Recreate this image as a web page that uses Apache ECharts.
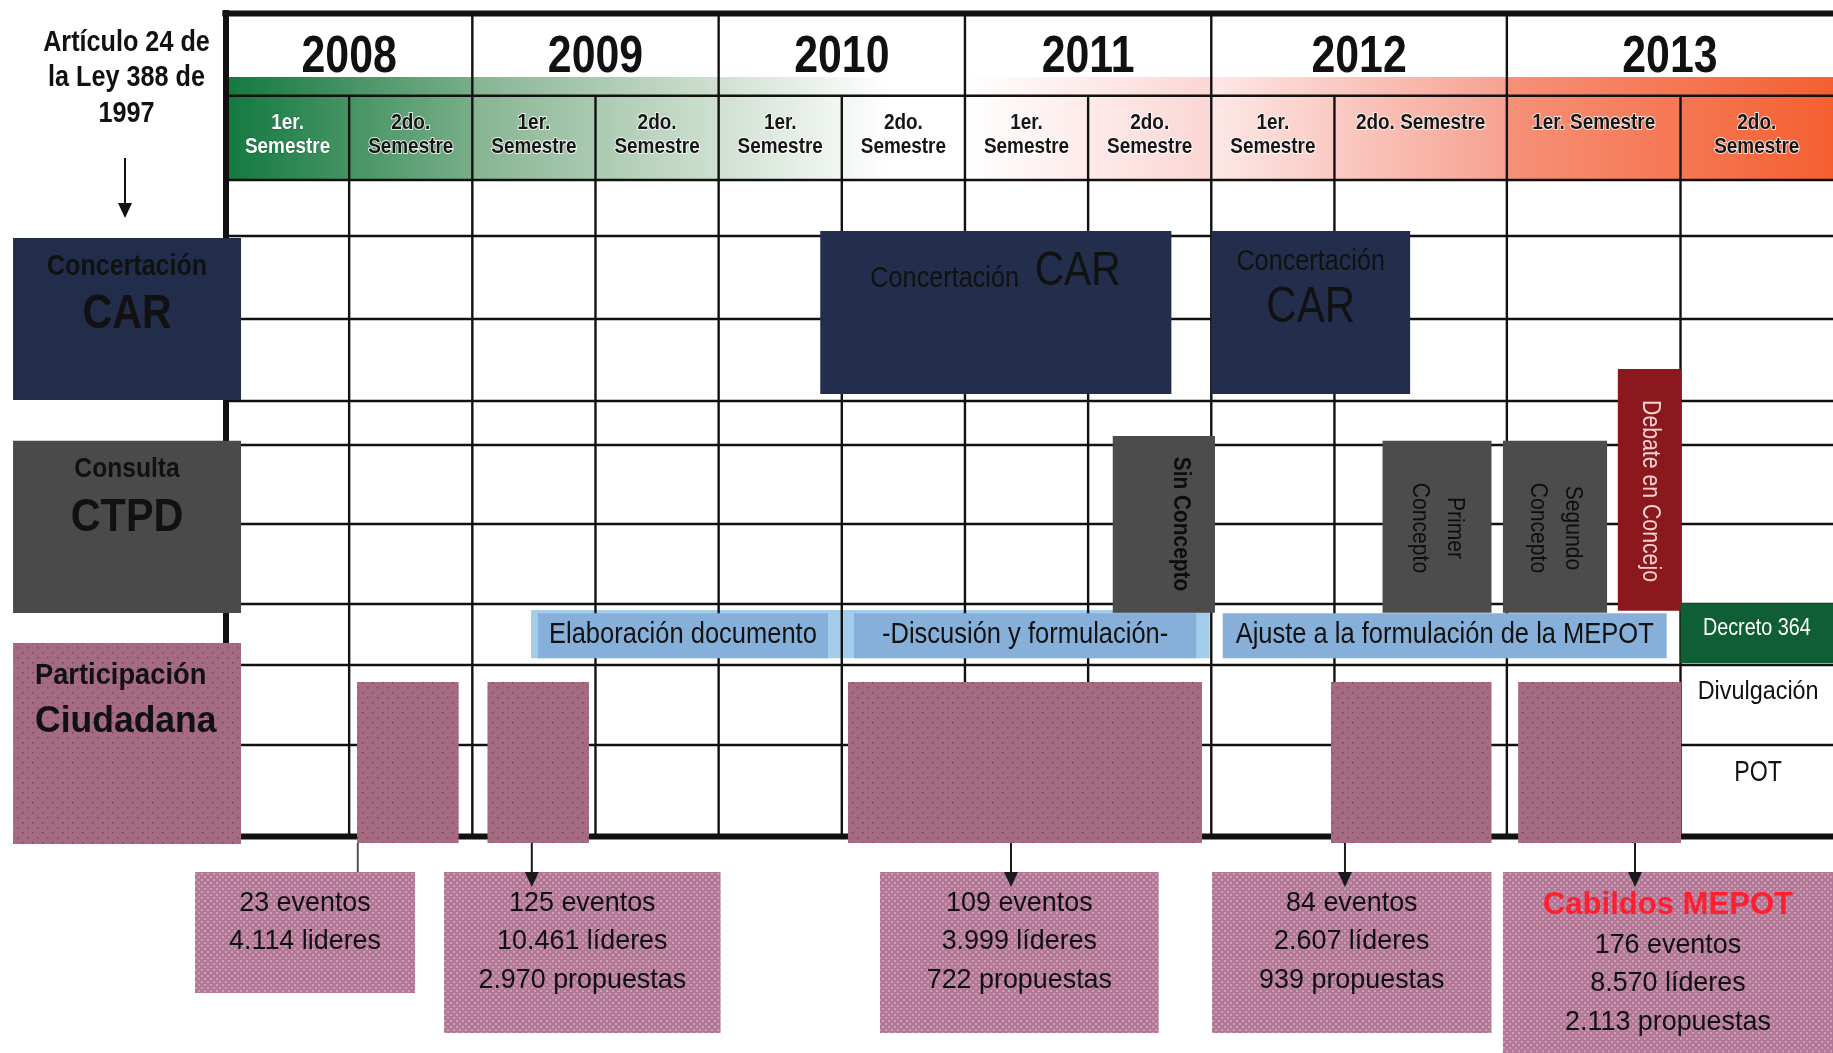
<!DOCTYPE html>
<html>
<head>
<meta charset="utf-8">
<title>Cronología MEPOT</title>
<script src="https://cdn.jsdelivr.net/npm/echarts@6/dist/echarts.min.js"></script>
<style>
  html, body { margin: 0; padding: 0; background: #fff; }
  #main { width: 1833px; height: 1053px; }
</style>
</head>
<body>
<div id="main"></div>
<script>
// ---- datos (semestres contados desde 2008 1er. = 0) ----
var years = ['2008', '2009', '2010', '2011', '2012', '2013'];
var semesterLabels = ['1er.\nSemestre', '2do.\nSemestre', '1er.\nSemestre', '2do.\nSemestre',
                      '1er.\nSemestre', '2do.\nSemestre', '1er.\nSemestre', '2do.\nSemestre',
                      '1er.\nSemestre', '2do. Semestre', '1er. Semestre', '2do.\nSemestre'];

var carSpans = [[4.825, 7.676], [8.0, 9.439]];
var ctpdNames = ['Sin Concepto', 'Primer\nConcepto', 'Segundo\nConcepto', 'Debate en Concejo'];
var ctpdSpans = [[7.2, 8.03], [9.279, 9.911], [9.977, 10.577], [10.639, 11.005]];

var phaseNames = ['Elaboración documento', '-Discusión y formulación-', 'Ajuste a la formulación de la MEPOT', 'Decreto 364'];
var phaseSpans = [[2.532, 4.888], [5.099, 7.878], [8.093, 10.92], [11.0, 12.6]];

var partSpans = [[1.064, 1.889], [2.123, 2.947], [5.05, 7.925], [8.972, 9.911], [10.065, 11.003]];
var resultSpans = [[-0.252, 1.535], [1.77, 4.016], [5.31, 7.573], [8.006, 9.911], [9.977, 12.6]];
var resultArrowAt = [1.07, 2.483, 6.374, 9.061, 10.738];
var resultTitles = ['', '', '', '', 'Cabildos MEPOT'];
var resultEvents = ['23 eventos', '125 eventos', '109 eventos', '84 eventos', '176 eventos'];
var resultLeaders = ['4.114 lideres', '10.461 líderes', '3.999 líderes', '2.607 líderes', '8.570 líderes'];
var resultProposals = ['', '2.970 propuestas', '722 propuestas', '939 propuestas', '2.113 propuestas'];

// ---- layout ----
var semWidths = [1, 1, 1, 1, 1, 1, 1, 1, 1, 1.40, 1.41, 1.41];
var cum = [0];
semWidths.forEach(function (w, i) { cum.push(cum[i] + w); });
function ax(s) {
    if (s <= 0) return s;
    if (s >= 12) return cum[12] + (s - 12) * semWidths[11];
    var i = Math.floor(s);
    return cum[i] + (s - i) * semWidths[i];
}
var PX = 123.16;
var XMAX = (1833 - 226) / PX;
var FF = "'Liberation Sans', Arial, sans-serif";
var rowLines = [95.7, 180, 236, 319, 401, 445, 524, 604, 665, 745];

var headColors = [
    [[0, '#12793f'], [1, '#78ae88']],
    [[0, '#86b491'], [1, '#cfe0d0']],
    [[0, '#d0e0d2'], [0.7, '#ffffff'], [1, '#ffffff']],
    [[0, '#ffffff'], [1, '#fbd6d4']],
    [[0, '#fde8e7'], [1, '#f6a190']],
    [[0, '#f69178'], [1, '#f45c2c']]
];

function makePattern(base, dot, size, pts, r) {
    var c = document.createElement('canvas');
    c.width = size; c.height = size;
    var g = c.getContext('2d');
    g.fillStyle = base; g.fillRect(0, 0, size, size);
    g.fillStyle = dot;
    pts.forEach(function (p) { g.fillRect(p[0], p[1], r, r); });
    return { type: 'pattern', image: c, repeat: 'repeat' };
}
var dotFill = makePattern('#a56b82', '#774a5e', 10, [[2, 2], [7, 7]], 1.5);
var hatchFill = makePattern('#b27896', '#cc9fb6', 6, [[0, 0], [3, 3]], 2);

// ---- helpers ----
function box(api, v0, v1, y0, y1, fill) {
    var a = api.coord([v0, y0]), b = api.coord([v1, y1]);
    return { type: 'rect', shape: { x: a[0], y: a[1], width: b[0] - a[0], height: b[1] - a[1] }, style: { fill: fill } };
}
function seg(api, v0, y0, v1, y1, w, c) {
    var a = api.coord([v0, y0]), b = api.coord([v1, y1]);
    return { type: 'line', shape: { x1: a[0], y1: a[1], x2: b[0], y2: b[1] }, style: { stroke: c || '#111', lineWidth: w } };
}
function label(api, v, y, text, o) {
    var p = api.coord([v, y]);
    return {
        type: 'text', x: p[0], y: p[1], rotation: o.rot || 0, scaleX: o.sx || 1,
        style: {
            legacy: false, text: text, fill: o.color || '#111',
            font: (o.weight || 'normal') + ' ' + o.size + 'px ' + FF,
            align: o.align || 'center', verticalAlign: o.va || 'middle',
            lineHeight: o.lh || o.size * 1.2,
            stroke: o.stroke || null, lineWidth: o.strokeW || 0
        }
    };
}
function arrow(api, v, y0, yTip, head, c) {
    var ch = [seg(api, v, y0, v, head ? yTip - 8 : yTip, 2, c)];
    if (head) {
        var p = api.coord([v, yTip]);
        ch.push({ type: 'polygon', shape: { points: [[p[0] - 7, p[1] - 15], [p[0] + 7, p[1] - 15], [p[0], p[1]]] }, style: { fill: c } });
    }
    return ch;
}
// centro de la parte visible de un tramo
function mid(v0, v1) { return (v0 + Math.min(v1, XMAX)) / 2; }

var chart = echarts.init(document.getElementById('main'));
var common = { type: 'custom', silent: true, animation: false, coordinateSystem: 'cartesian2d' };
function S(z, data, fn) {
    return Object.assign({}, common, { z: z, data: data, renderItem: fn });
}

var option = {
    animation: false,
    grid: { left: 226, top: 0, right: 0, height: 1053 },
    xAxis: { type: 'value', min: 0, max: XMAX, show: false },
    yAxis: { type: 'value', min: 0, max: 1053, inverse: true, show: false },
    series: [
        // cabecera de años
        S(1, years.map(function (y, i) { return [ax(2 * i), ax(2 * i + 2)]; }), function (params, api) {
            var i = params.dataIndex, v0 = api.value(0), v1 = api.value(1);
            var grad = new echarts.graphic.LinearGradient(0, 0, 1, 0, headColors[i].map(function (s) { return { offset: s[0], color: s[1] }; }));
            return { type: 'group', children: [
                box(api, v0, v1, 77, 180, grad),
                label(api, mid(v0, v1), 58, years[i], { size: 51, weight: 'bold', sx: 0.84 })
            ] };
        }),
        // franja azul clara detrás de las fases
        S(2, [[ax(2.477), ax(7.987)]], function (params, api) {
            return box(api, api.value(0), api.value(1), 610, 658.3, '#a3cdea');
        }),
        // retícula
        S(3, [[0, 0]], function (params, api) {
            var ch = [], right = ax(12.6);
            rowLines.forEach(function (y) { ch.push(seg(api, 0, y, right, y, 2.4)); });
            for (var k = 1; k < 12; k++) {
                ch.push(seg(api, ax(k), k % 2 === 0 ? 16 : 95.7, ax(k), 836, 2.4));
            }
            ch.push(seg(api, -0.03, 13.5, right, 13.5, 6));
            ch.push(seg(api, 0, 836.5, right, 836.5, 6));
            ch.push(seg(api, 0, 10, 0, 840, 6));
            return { type: 'group', children: ch };
        }),
        // semestres
        S(4, semesterLabels.map(function (t, i) { return [ax(i), ax(i + 1)]; }), function (params, api) {
            var i = params.dataIndex;
            var first = i === 0;
            return label(api, mid(api.value(0), api.value(1)), 111, semesterLabels[i], {
                size: 22, weight: 'bold', sx: 0.86, va: 'top', lh: 24,
                color: first ? '#ffffff' : '#161616',
                stroke: first ? 'rgba(0,60,30,0.5)' : 'rgba(255,255,255,0.8)', strokeW: first ? 1 : 2
            });
        }),
        // título y etiquetas de la izquierda
        S(5, [[0, 0]], function (params, api) {
            var l0 = -1.729, l1 = 0.122, c = (l0 + l1) / 2;
            var ch = [
                label(api, -0.808, 78, 'Artículo 24 de\nla Ley 388 de\n1997', { size: 30, weight: 'bold', sx: 0.84, lh: 35.5 })
            ];
            ch = ch.concat(arrow(api, -0.82, 158, 218, true, '#111'));
            ch.push(box(api, l0, l1, 238, 400, '#222d4b'));
            ch.push(box(api, l0, l1, 440.7, 613, '#4a4a4a'));
            ch.push(box(api, l0, l1, 643, 844, dotFill));
            ch.push(label(api, c, 266.7, 'Concertación', { size: 30, weight: 'bold', sx: 0.835 }));
            ch.push(label(api, c, 314, 'CAR', { size: 49, weight: 'bold', sx: 0.84 }));
            ch.push(label(api, c, 469, 'Consulta', { size: 28, weight: 'bold', sx: 0.88 }));
            ch.push(label(api, c, 518, 'CTPD', { size: 46, weight: 'bold', sx: 0.9 }));
            ch.push(label(api, -1.551, 676, 'Participación', { size: 30, weight: 'bold', sx: 0.91, align: 'left' }));
            ch.push(label(api, -1.551, 721.7, 'Ciudadana', { size: 37, weight: 'bold', sx: 0.96, align: 'left' }));
            return { type: 'group', children: ch };
        }),
        // Concertación CAR
        S(6, carSpans.map(function (s) { return [ax(s[0]), ax(s[1])]; }), function (params, api) {
            var v0 = api.value(0), v1 = api.value(1), m = (v0 + v1) / 2;
            var ch = [box(api, v0, v1, 231, 394, '#232e4c')];
            if (params.dataIndex === 0) {
                ch.push(label(api, m - 0.415, 279, 'Concertación', { size: 29, sx: 0.87 }));
                ch.push(label(api, m + 0.665, 272, 'CAR', { size: 48, sx: 0.85 }));
            } else {
                ch.push(label(api, m, 261.7, 'Concertación', { size: 29, sx: 0.87 }));
                ch.push(label(api, m, 308, 'CAR', { size: 50, sx: 0.84 }));
            }
            return { type: 'group', children: ch };
        }),
        // Consulta CTPD y Debate
        S(6, ctpdSpans.map(function (s) { return [ax(s[0]), ax(s[1])]; }), function (params, api) {
            var i = params.dataIndex, v0 = api.value(0), v1 = api.value(1), m = (v0 + v1) / 2;
            var rot = -Math.PI / 2;
            if (i === 3) {
                return { type: 'group', children: [
                    box(api, v0, v1, 369, 610.7, '#8a181c'),
                    label(api, m, 491, ctpdNames[i], { size: 25, sx: 0.85, rot: rot, color: '#f6d2d2' })
                ] };
            }
            var top = i === 0 ? 436 : 440.7;
            var el = i === 0
                ? label(api, m + 0.14, 524, ctpdNames[i], { size: 24, weight: 'bold', sx: 0.87, rot: rot, color: '#0d0d0d' })
                : label(api, m, 528, ctpdNames[i], { size: 24, sx: 0.88, rot: rot, lh: 35, color: '#0d0d0d' });
            return { type: 'group', children: [box(api, v0, v1, top, 612.7, '#4b4c4b'), el] };
        }),
        // fases
        S(6, phaseSpans.map(function (s) { return [ax(s[0]), ax(s[1])]; }), function (params, api) {
            var i = params.dataIndex, v0 = api.value(0), v1 = api.value(1), m = (v0 + v1) / 2;
            if (i === 3) {
                return { type: 'group', children: [
                    box(api, v0, v1, 603.3, 663.3, '#0f5e35'),
                    label(api, mid(v0, v1), 628.3, phaseNames[i], { size: 23, sx: 0.86, color: '#ffffff' })
                ] };
            }
            return { type: 'group', children: [
                box(api, v0, v1, 613.3, 658.3, '#86afd9'),
                label(api, m, 635, phaseNames[i], { size: 30, sx: 0.85, color: '#111' })
            ] };
        }),
        // Divulgación POT
        S(6, [[ax(11.447), 0]], function (params, api) {
            return { type: 'group', children: [
                label(api, api.value(0), 691.7, 'Divulgación', { size: 26, sx: 0.9 }),
                label(api, api.value(0), 773, 'POT', { size: 29, sx: 0.8 })
            ] };
        }),
        // participación ciudadana
        S(7, partSpans.map(function (s) { return [ax(s[0]), ax(s[1])]; }), function (params, api) {
            return box(api, api.value(0), api.value(1), 682, 843, dotFill);
        }),
        // resultados
        S(7, resultSpans.map(function (s, i) { return [ax(s[0]), ax(s[1]), ax(resultArrowAt[i])]; }), function (params, api) {
            var i = params.dataIndex, v0 = api.value(0), v1 = api.value(1), m = mid(v0, v1);
            var body = [resultEvents[i], resultLeaders[i]];
            if (resultProposals[i]) body.push(resultProposals[i]);
            var n = body.length + (resultTitles[i] ? 1 : 0);
            var ch = [box(api, v0, v1, 872, 913 + 40 * n, hatchFill)];
            ch = ch.concat(arrow(api, api.value(2), 843, i === 0 ? 872 : 887, i !== 0, i === 0 ? '#555' : '#1a1a1a'));
            var y = 903;
            if (resultTitles[i]) {
                ch.push(label(api, m, 905, resultTitles[i], { size: 32, weight: 'bold', sx: 0.97, color: '#ff1f2e' }));
                y = 945;
            }
            body.forEach(function (t, k) {
                ch.push(label(api, m, y + k * 38.4, t, { size: 28, sx: 0.96 }));
            });
            return { type: 'group', children: ch };
        })
    ]
};
chart.setOption(option);
</script>
</body>
</html>
